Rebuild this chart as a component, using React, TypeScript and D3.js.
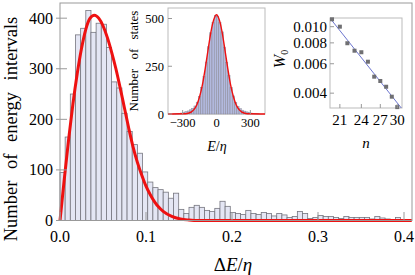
import React from "react";
import * as d3 from "d3";

// main histogram: level spacings, bin width 0.006
const binWidth = 0.006;
const spacingCounts = [
  95, 165, 250, 367, 380, 415, 372, 390, 388, 342, 274, 262, 212, 176, 150, 133,
  96, 76, 65, 61, 56, 44, 54, 22, 14, 26, 30, 26, 20, 18, 24, 38, 28, 16, 14, 12,
  20, 14, 12, 16, 14, 9, 14, 11, 6, 8, 18, 14, 4, 6, 10, 8, 8, 6, 4, 8, 6, 6, 6,
  6, 3, 8, 5, 3, 2, 6, 2, 2,
];
// red fit curve
const fitDelta = [0, 0.005, 0.01, 0.015, 0.02, 0.025, 0.03, 0.035, 0.04, 0.045, 0.05, 0.055, 0.06, 0.065, 0.07, 0.075, 0.08, 0.085, 0.09, 0.095, 0.1, 0.105, 0.11, 0.115, 0.12, 0.13, 0.14, 0.15, 0.16, 0.2, 0.3, 0.409];
const fitCount = [0, 82, 160, 230, 290, 340, 378, 400, 406, 400, 385, 362, 333, 300, 262, 222, 182, 145, 115, 90, 68, 51, 37, 26, 18, 8, 3, 1, 0, 0, 0, 0];
const mainYTicks = [0, 100, 200, 300, 400];
const mainXTicks = [0, 0.1, 0.2, 0.3, 0.4];

// inset 1: density of states
const stateCenters = d3.range(-390, 391, 20);
const stateCounts = [
  0, 1, 2, 3, 5, 8, 12, 16, 22, 30, 42, 62, 92, 140, 198, 272, 352, 425, 480, 515,
  512, 478, 430, 350, 270, 202, 138, 95, 60, 40, 28, 20, 15, 11, 8, 5, 3, 2, 1, 0,
];
const gaussE = [-430, -300, -250, -200, -175, -150, -125, -100, -75, -50, -25, 0, 25, 50, 75, 100, 125, 150, 175, 200, 250, 300, 430];
const gaussN = [0, 1, 4, 23, 47, 90, 152, 238, 335, 428, 493, 520, 493, 428, 335, 238, 152, 90, 47, 23, 4, 1, 0];
const stateYTicks = [0, 250, 500];
const stateXTicks = [-300, 0, 300];

// inset 2: W0 vs n (log-log)
const nValues = [20, 21, 22, 23, 24, 25, 26, 27, 28, 29, 30];
const w0Values = [0.01107, 0.01, 0.00796, 0.00718, 0.00703, 0.00617, 0.00502, 0.00473, 0.00437, 0.00381, 0.0033];
const lineN = [19.75, 30.9];
const lineW = [0.01125, 0.00322];
const wYTicks = [0.004, 0.006, 0.008, 0.01];
const wYLabels = ["0.004", "0.006", "0.008", "0.010"];
const wXTicks = [21, 24, 27, 30];

const serif = "Liberation Serif, Times New Roman, serif";

export default function App() {
  const x = d3.scaleLinear().domain([0, 0.4093]).range([60, 412]);
  const y = d3.scaleLinear().domain([0, 430]).range([220.5, 3]);

  const fitLine = d3
    .line<number>()
    .x((d, i) => x(fitDelta[i]))
    .y((d) => y(d))
    .curve(d3.curveMonotoneX)(fitCount);

  const xs = d3.scaleLinear().domain([-430, 430]).range([168, 265]);
  const ys = d3.scaleLinear().domain([0, 555]).range([114, 8]);
  const gaussLine = d3
    .line<number>()
    .x((d, i) => xs(gaussE[i]))
    .y((d) => ys(d))
    .curve(d3.curveMonotoneX)(gaussN);

  const xw = d3.scaleLog().domain([19.75, 30.9]).range([330, 402]);
  const yw = d3.scaleLog().domain([0.00326, 0.01127]).range([108, 18]);

  return (
    <svg width={415} height={275} style={{ position: "absolute", left: 0, top: 0, background: "#fff" }} fontFamily={serif}>
      <defs>
        <clipPath id="wclip">
          <rect x={330} y={18} width={72} height={90} />
        </clipPath>
      </defs>

      {/* main histogram */}
      <g>
        {spacingCounts.map((c, i) => (
          <rect
            key={i}
            x={x(i * binWidth)}
            y={y(c)}
            width={x((i + 1) * binWidth) - x(i * binWidth)}
            height={y(0) - y(c)}
            fill="#e4e6f4"
            stroke="#76767f"
            strokeWidth={0.8}
          />
        ))}
      </g>
      <path d={fitLine || ""} fill="none" stroke="#ee1111" strokeWidth={3} />

      {/* main frame */}
      <rect x={60} y={3} width={352} height={217.5} fill="none" stroke="#999" strokeWidth={1} />
      {mainYTicks.map((t) => (
        <g key={t}>
          <line x1={56} x2={67} y1={y(t)} y2={y(t)} stroke="#999" />
          <text x={53} y={y(t) + 5.5} textAnchor="end" fontSize={16}>{t}</text>
        </g>
      ))}
      {mainXTicks.map((t) => (
        <g key={t}>
          <line x1={x(t)} x2={x(t)} y1={220.5} y2={212} stroke="#999" />
          <text x={x(t)} y={242} textAnchor="middle" fontSize={16}>{t.toFixed(1)}</text>
        </g>
      ))}
      <text transform="translate(17,129) rotate(-90)" textAnchor="middle" fontSize={18.5} wordSpacing={7}>
        Number of energy intervals
      </text>
      <text x={233} y={271} textAnchor="middle" fontSize={19}>
        Δ<tspan fontStyle="italic">E</tspan>/<tspan fontStyle="italic">η</tspan>
      </text>

      {/* inset 1 */}
      <rect x={168} y={8} width={97} height={106} fill="#fff" stroke="#bbb" strokeWidth={1} />
      {stateCounts.map((c, i) => (
        <rect
          key={i}
          x={xs(stateCenters[i] - 10)}
          y={ys(c)}
          width={xs(stateCenters[i] + 10) - xs(stateCenters[i] - 10)}
          height={ys(0) - ys(c)}
          fill="#b2b9de"
          stroke="#8a8a98"
          strokeWidth={0.5}
        />
      ))}
      <path d={gaussLine || ""} fill="none" stroke="#ee1111" strokeWidth={1.4} />
      {stateYTicks.map((t) => (
        <g key={t}>
          <line x1={168} x2={172} y1={ys(t)} y2={ys(t)} stroke="#999" />
          <text x={164} y={ys(t) + 4.5} textAnchor="end" fontSize={12.5}>{t}</text>
        </g>
      ))}
      {stateXTicks.map((t) => (
        <g key={t}>
          <line x1={xs(t)} x2={xs(t)} y1={114} y2={110} stroke="#999" />
          <text x={xs(t)} y={127} textAnchor="middle" fontSize={12.5}>{t < 0 ? "\u2212" + Math.abs(t) : t}</text>
        </g>
      ))}
      <text transform="translate(138,61) rotate(-90)" textAnchor="middle" fontSize={13} wordSpacing={6}>
        Number of states
      </text>
      <text x={217} y={151} textAnchor="middle" fontSize={14}>
        <tspan fontStyle="italic">E</tspan>/<tspan fontStyle="italic">η</tspan>
      </text>

      {/* inset 2 */}
      <rect x={330} y={18} width={72} height={90} fill="#fff" stroke="#bbb" strokeWidth={1} />
      <line
        x1={xw(lineN[0])}
        y1={yw(lineW[0])}
        x2={xw(lineN[1])}
        y2={yw(lineW[1])}
        stroke="#5a64c8"
        strokeWidth={0.9}
        clipPath="url(#wclip)"
      />
      {nValues.map((n, i) => (
        <rect key={n} x={xw(n) - 2} y={yw(w0Values[i]) - 2} width={4} height={4} fill="#6f6f72" />
      ))}
      {wYTicks.map((t, i) => (
        <g key={t}>
          <line x1={330} x2={334} y1={yw(t)} y2={yw(t)} stroke="#999" />
          <text x={327} y={yw(t) + 5} textAnchor="end" fontSize={15}>{wYLabels[i]}</text>
        </g>
      ))}
      {wXTicks.map((t) => (
        <g key={t}>
          <line x1={xw(t)} x2={xw(t)} y1={108} y2={104} stroke="#999" />
          <text x={xw(t)} y={125} textAnchor="middle" fontSize={15}>{t}</text>
        </g>
      ))}
      <text transform="translate(285,59) rotate(-90)" textAnchor="middle" fontSize={16}>
        <tspan fontStyle="italic">W</tspan>
        <tspan fontSize={10} dy={3}>0</tspan>
      </text>
      <text x={366} y={148} textAnchor="middle" fontSize={15} fontStyle="italic">n</text>
    </svg>
  );
}
